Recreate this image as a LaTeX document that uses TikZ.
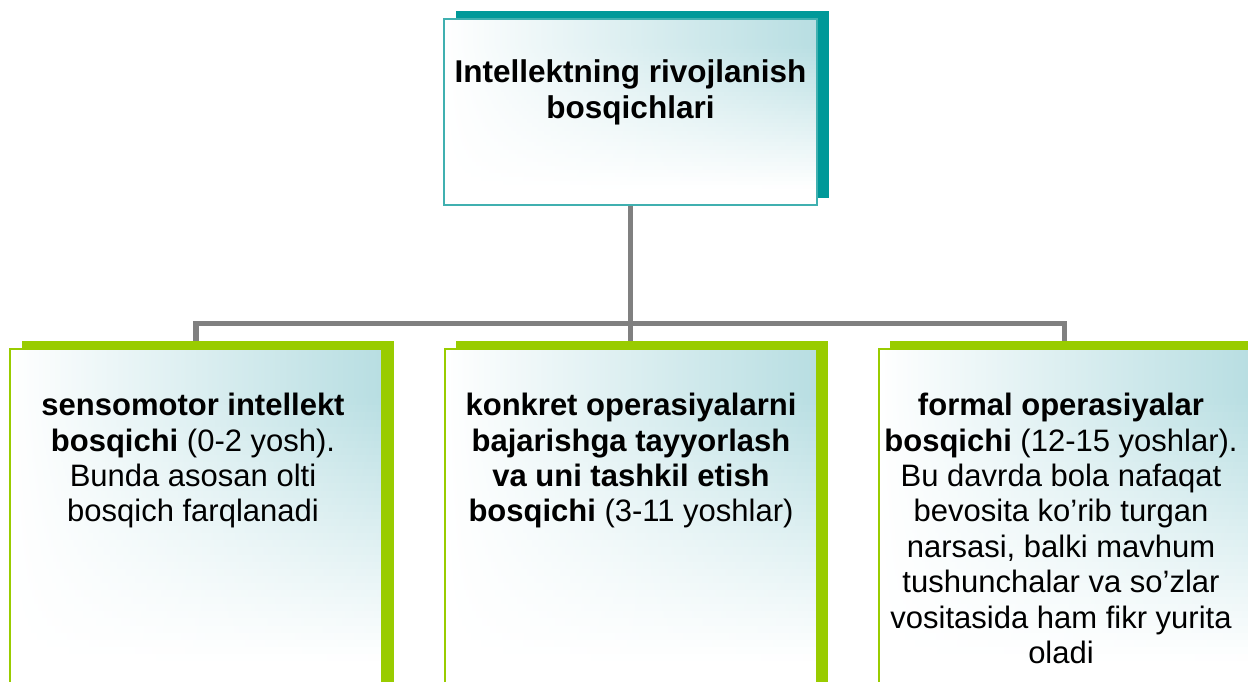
\documentclass[tikz,border=0pt]{standalone}
\usepackage{fontspec}
\setmainfont{Liberation Sans}
\usetikzlibrary{backgrounds,shadings,calc}
\definecolor{tealshadow}{RGB}{0,153,153}
\definecolor{tealborder}{RGB}{64,176,176}
\definecolor{limegreen}{RGB}{153,204,0}
\definecolor{paleblue}{RGB}{184,222,226}
\definecolor{linkgray}{RGB}{128,128,128}
\begin{document}
\begin{tikzpicture}[x=1pt,y=-1pt,
  panel/.style={rectangle, inner sep=0pt, outer sep=0pt, line width=2pt, fill=white,
    path picture={
      \foreach \i in {0,...,47} {
        \pgfmathsetmacro\k{max(0,min(100,100*(0.92-(\i+0.5)/48)/0.77))}
        \shade[left color=white, right color=paleblue!\k]
          ($(path picture bounding box.north west)!{\i/48}!(path picture bounding box.south west)$)
          rectangle
          ($(path picture bounding box.north east)!{(\i+1.08)/48}!(path picture bounding box.south east)$);
      }}},
  topbox/.style={panel, draw=tealborder, minimum width=373pt, minimum height=186pt},
  stagebox/.style={panel, draw=limegreen, minimum width=372pt, minimum height=341pt},
  boxtext/.style={inner sep=0pt, align=center, anchor=north, text=black,
    font=\fontsize{31}{35.4}\selectfont},
  toptext/.style={boxtext, font=\fontsize{31.5}{36.5}\selectfont\bfseries},
  link/.style={draw=linkgray, line width=5.5pt, line join=miter}
]
\useasboundingbox (0,0) rectangle (1248,682);
\clip (0,0) rectangle (1248,682);

\node[topbox]   (t)  at (630.5,112) {};
\node[stagebox] (b1) at (196,519.5) {};
\node[stagebox] (b2) at (630.5,519.5) {};
\node[stagebox] (b3) at (1064.5,519.5) {};
\coordinate (hub) at (630.5,323.5);

\node[toptext] (tt) at (630.5,59) {Intellektning rivojlanish\\bosqichlari};
\node[boxtext] (t1) at (193,393) {\textbf{sensomotor intellekt}\\\textbf{bosqichi} (0-2 yosh).\\Bunda asosan olti\\bosqich farqlanadi};
\node[boxtext] (t2) at (631,393) {\textbf{konkret operasiyalarni}\\\textbf{bajarishga tayyorlash}\\\textbf{va uni tashkil etish}\\\textbf{bosqichi} (3-11 yoshlar)};
\node[boxtext] (t3) at (1061,393) {\textbf{formal operasiyalar}\\\textbf{bosqichi} (12-15 yoshlar).\\Bu davrda bola nafaqat\\bevosita ko’rib turgan\\narsasi, balki mavhum\\tushunchalar va so’zlar\\vositasida ham fikr yurita\\oladi};

\begin{pgfonlayer}{background}
  \fill[white] (0,0) rectangle (1248,682);
  \draw[link] (t.south) -- (b2.north);
  \draw[link] (b1.north) |- (hub) -| (b3.north);
  \fill[tealshadow] ([shift={(11.5,-7.5)}]t.north west) rectangle ([shift={(11.5,-7.5)}]t.south east);
  \foreach \n in {b1,b2,b3}
    \fill[limegreen] ([shift={(11.5,-8)}]\n.north west) rectangle ([shift={(11.5,-8)}]\n.south east);
\end{pgfonlayer}
\end{tikzpicture}
\end{document}
